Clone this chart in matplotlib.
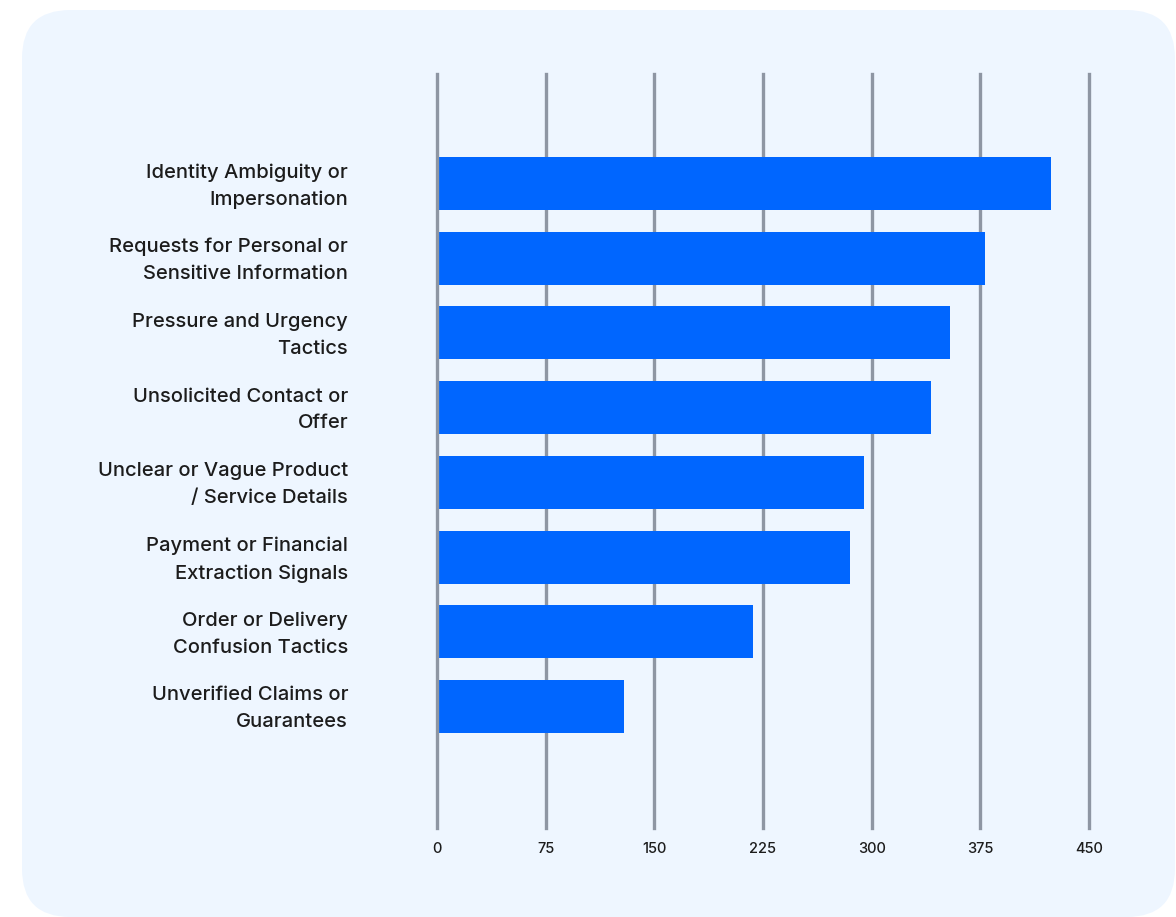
import matplotlib
matplotlib.use("Agg")
import matplotlib.pyplot as plt
from matplotlib.patches import FancyBboxPatch
from matplotlib.transforms import ScaledTranslation

# categories (top to bottom) and counts
categories = [
    "Identity Ambiguity or\nImpersonation",
    "Requests for Personal or\nSensitive Information",
    "Pressure and Urgency\nTactics",
    "Unsolicited Contact or\nOffer",
    "Unclear or Vague Product\n/ Service Details",
    "Payment or Financial\nExtraction Signals",
    "Order or Delivery\nConfusion Tactics",
    "Unverified Claims or\nGuarantees",
]
counts = [424, 378, 354, 341, 295, 285, 218, 129]
x_ticks = [0, 75, 150, 225, 300, 375, 450]

W, H = 1176, 917
fig = plt.figure(figsize=(W / 100, H / 100), dpi=100)
fig.patch.set_facecolor("white")

# rounded light-blue card behind everything
card = FancyBboxPatch((22 / W, 0), (1175 - 22) / W, (H - 10) / H,
                      boxstyle="round,pad=0,rounding_size=0.041",
                      transform=fig.transFigure, facecolor="#EEF6FF",
                      edgecolor="none", mutation_aspect=W / H, zorder=-10)
fig.patches.append(card)

ax = fig.add_axes([437 / W, 1 - 828 / H, (1089 - 437) / W, (828 - 74) / H])
ax.set_facecolor("none")
ax.set_zorder(1)

ypos = list(range(len(categories)))
for x in x_ticks:
    # zero line sits on top so it shows at the bars' left edge
    ax.axvline(x, color="#8E96A3", lw=2.4, zorder=3 if x == 0 else 1, clip_on=False)
ax.barh(ypos, counts, height=0.71, color="#0066FF", zorder=2)

ax.set_xlim(0, 450)
ax.set_ylim(8.627, -1.466)
ax.set_xticks(x_ticks)
ax.set_xticklabels([str(v) for v in x_ticks])
ax.set_yticks(ypos)
ax.set_yticklabels(categories, ha="right", linespacing=1.62)
ax.tick_params(axis="x", length=0, pad=10, labelsize=10.5, labelcolor="#1c1c1c")
ax.tick_params(axis="y", length=0, pad=64, labelsize=14.5, labelcolor="#1c1c1c")
nudge = ScaledTranslation(0, 4 / 100, fig.dpi_scale_trans)
for lbl in ax.get_yticklabels():
    lbl.set_fontfamily("Inter")
    lbl.set_fontweight("medium")
    lbl.set_transform(lbl.get_transform() + nudge)
for lbl in ax.get_xticklabels():
    lbl.set_fontfamily("Inter")
    lbl.set_fontweight("medium")
for s in ax.spines.values():
    s.set_visible(False)

fig.savefig("out.png", dpi=100, facecolor=fig.get_facecolor())
